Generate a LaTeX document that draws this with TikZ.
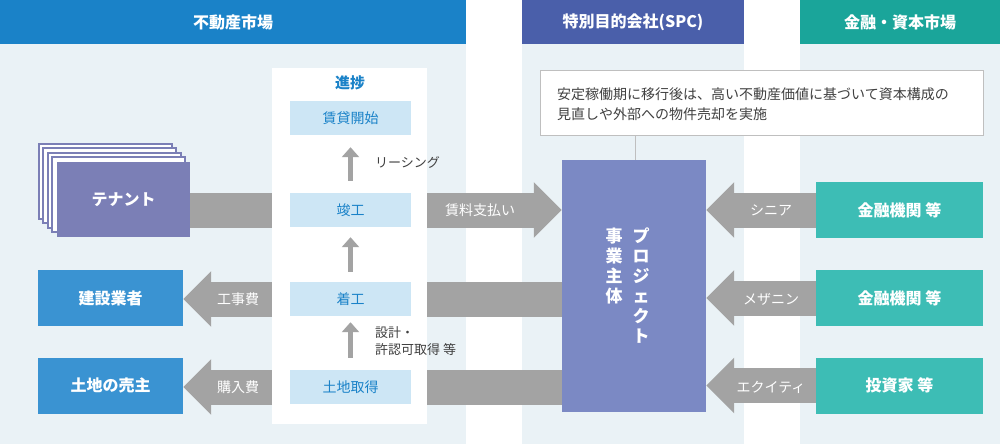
\documentclass[tikz,border=0pt]{standalone}
\usepackage{fontspec}
\setmainfont{Noto Sans CJK JP}
\usetikzlibrary{arrows.meta}
\definecolor{mktblue}{HTML}{1A82C8}
\definecolor{spcblue}{HTML}{4A5FAA}
\definecolor{capteal}{HTML}{1AA59A}
\definecolor{colbg}{HTML}{EAF2F6}
\definecolor{stepbg}{HTML}{CDE6F5}
\definecolor{tenant}{HTML}{7B7FB6}
\definecolor{spcbox}{HTML}{7B89C4}
\definecolor{partyblue}{HTML}{3A93D2}
\definecolor{partyteal}{HTML}{3DBDB5}
\definecolor{flowgray}{HTML}{A3A3A3}
\tikzset{
  head/.style={text=white,font=\fontsize{16}{16}\selectfont\bfseries},
  stage/.style={fill=stepbg,minimum width=121pt,minimum height=34pt,text=mktblue,font=\fontsize{14}{14}\selectfont},
  party/.style={minimum width=145pt,minimum height=56pt,text=white,font=\fontsize{16}{16}\selectfont\bfseries},
  fund/.style={fill=partyteal,minimum width=167pt,minimum height=56pt,text=white,font=\fontsize{16}{16}\selectfont\bfseries},
  flow/.style={draw=flowgray,line width=35pt,-{Triangle[length=28pt,width=54pt]}},
  up/.style={draw=flowgray,line width=5pt,-{Triangle[length=10pt,width=17pt]}},
  flowlbl/.style={text=white,font=\fontsize{14}{14}\selectfont},
  note/.style={font=\fontsize{13}{13}\selectfont,text=black!75},
}
\begin{document}
\begin{tikzpicture}[x=1pt,y=-1pt,inner sep=0pt]
  \useasboundingbox (0,0) rectangle (1000,444);
  % columns
  \fill[colbg] (0,44) rectangle (466,444);
  \fill[colbg] (522,44) rectangle (744,444);
  \fill[colbg] (800,44) rectangle (1000,444);
  \fill[mktblue] (0,0) rectangle (466,44);
  \fill[spcblue] (522,0) rectangle (744,44);
  \fill[capteal] (800,0) rectangle (1000,44);
  \node[head] at (233,22) {不動産市場};
  \node[head] at (633,22) {特別目的会社(SPC)};
  \node[head] at (900,22) {金融・資本市場};
  % parties
  \foreach \d in {18,14,9,5}
    \draw[tenant,fill=white,line width=1.2pt] (57-\d,162-\d) rectangle (190-\d,237-\d);
  \node[fill=tenant,minimum width=133pt,minimum height=75pt,text=white,
        font=\fontsize{16}{16}\selectfont\bfseries] (tenant) at (123.5,199.5) {テナント};
  \node[party,fill=partyblue] (builder) at (110.5,298) {建設業者};
  \node[party,fill=partyblue] (seller) at (110.5,385.5) {土地の売主};
  \node[fill=spcbox,minimum width=144pt,minimum height=252pt] (spc) at (634,286) {};
  \node[fund] (senior) at (899.5,210) {金融機関 等};
  \node[fund] (mezz) at (899.5,298) {金融機関 等};
  \node[fund] (equity) at (899.5,385.5) {投資家 等};
  % flows
  \draw[flow] (tenant.east |- 0,210) -- (spc.west |- 0,210);
  \draw[flow] (spc.west |- 0,299) -- (builder.east |- 0,299);
  \draw[flow] (spc.west |- 0,387) -- (seller.east |- 0,387);
  \draw[flow] (senior.west) -- (spc.east |- senior.west);
  \draw[flow] (mezz.west) -- (spc.east |- mezz.west);
  \draw[flow] (equity.west) -- (spc.east |- equity.west);
  \node[flowlbl] at (480,210) {賃料支払い};
  \node[flowlbl] at (238,299) {工事費};
  \node[flowlbl] at (238,387) {購入費};
  \node[flowlbl] at (771,210) {シニア};
  \node[flowlbl] at (771,299) {メザニン};
  \node[flowlbl] at (771,387) {エクイティ};
  % progress
  \fill[white] (272,68) rectangle (427,424);
  \node[text=mktblue,font=\fontsize{15}{15}\selectfont\bfseries] at (350,83) {進捗};
  \node[stage] (lease) at (350.5,118) {賃貸開始};
  \node[stage] (done) at (350.5,210) {竣工};
  \node[stage] (start) at (350.5,299) {着工};
  \node[stage] (land) at (350.5,387) {土地取得};
  \draw[up] ([yshift=12pt]done.north) -- ([yshift=-12pt]lease.south);
  \draw[up] ([yshift=10pt]start.north) -- ([yshift=-10pt]done.south);
  \draw[up] ([yshift=12pt]land.north) -- ([yshift=-6pt]start.south);
  \node[note,anchor=west] at (375,162) {リーシング};
  \node[note,anchor=west,align=left,font=\fontsize{13}{17}\selectfont] at (375,341) {設計・\\許認可取得 等};
  % SPC
  \node[text=white,font=\fontsize{17}{20}\selectfont\bfseries,align=center,anchor=north]
    at (641,228) {プ\\ロ\\ジ\\ェ\\ク\\ト};
  \node[text=white,font=\fontsize{17}{20}\selectfont\bfseries,align=center,anchor=north]
    at (614,228) {事\\業\\主\\体};
  \node[draw=black!25,fill=white,minimum width=443pt,minimum height=65pt] (memo) at (761.5,102.5) {};
  \node[note,anchor=north west,align=left,font=\fontsize{14}{20}\selectfont] at (557,88)
    {安定稼働期に移行後は、高い不動産価値に基づいて資本構成の\\見直しや外部への物件売却を実施};
  \draw[black!25] (spc.north -| 635,0) -- (memo.south -| 635,0);
\end{tikzpicture}
\end{document}
